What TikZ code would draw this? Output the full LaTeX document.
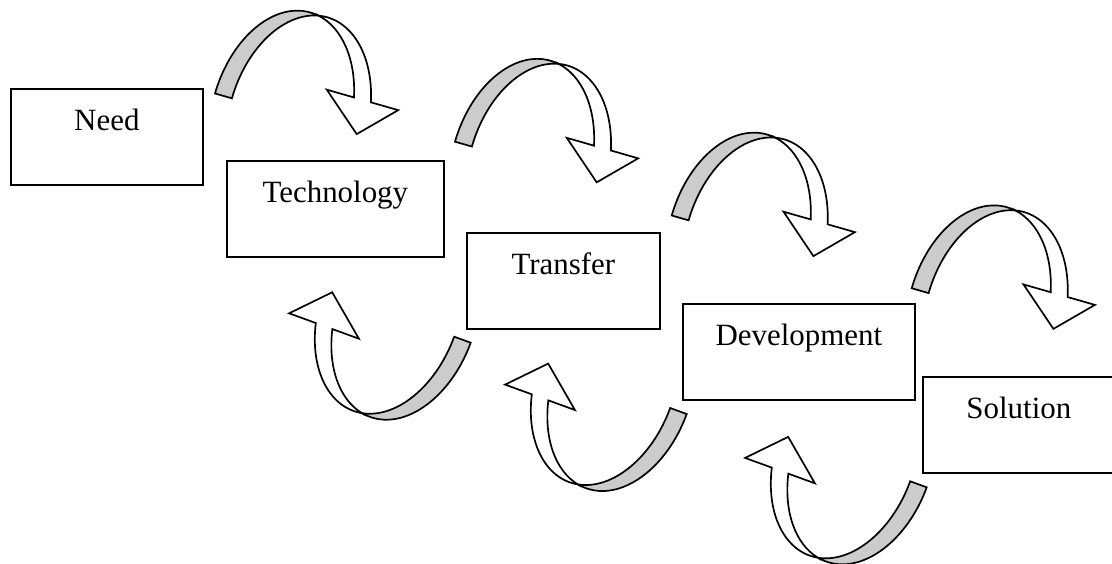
\documentclass[tikz,border=0pt]{standalone}
\usepackage{fontspec}
\setmainfont{Liberation Serif}

\tikzset{
  stage/.style={draw, line width=1.2pt, anchor=north west, inner sep=0pt,
    text height=1.03cm, text depth=1.37cm, font=\fontsize{22}{26}\selectfont},
  ribbon/.style={draw, line width=1.2pt, line join=miter},
  underside/.style={ribbon, fill=black!20},
  topside/.style={ribbon, fill=white},
  ring/.style={x radius=1.7325, y radius=2.605}
}

\begin{document}
\begin{tikzpicture}
\useasboundingbox (0,0) rectangle (27.8,14.075);

% the five stages, placed by their top left corners
\node[stage, minimum width=4.8cm] (need) at (0.25,11.875) {Need};
\node[stage, minimum width=5.425cm] (tech) at (5.65,10.075) {Technology};
\node[stage, minimum width=4.825cm] (transfer) at (11.65,8.275) {Transfer};
\node[stage, minimum width=5.8cm] (devel) at (17.05,6.5) {Development};
\node[stage, minimum width=4.8cm] (solution) at (23.05,4.675) {Solution};

% curved ribbon arrows: foot corner, then turn (-16 over the top, 160 underneath)
\foreach \fx/\fy/\turn in {5.375/11.7375/-16, 11.375/10.5325/-16, 16.7925/8.6875/-16,
    22.7925/6.8688/-16, 11.7675/5.5075/160, 17.1675/3.725/160, 23.1675/1.8925/160} {
  \begin{scope}[shift={(\fx,\fy)}, rotate=\turn]
    % grey back of the ribbon, from the foot up to the fold
    \draw[underside] (0,0) arc[ring, start angle=180, end angle=82.71]
      arc[ring, start angle=97.29, end angle=180] -- cycle;
    % white front of the ribbon with the head
    \draw[topside] (1.9525,2.584) arc[ring, start angle=97.29, end angle=19.33]
      -- (4.5175,0.8625) -- (3.685,0) -- (2.66,0.8625) -- (3.3673,0.8625)
      arc[ring, start angle=19.33, end angle=82.71] -- cycle;
  \end{scope}
}
\end{tikzpicture}
\end{document}
